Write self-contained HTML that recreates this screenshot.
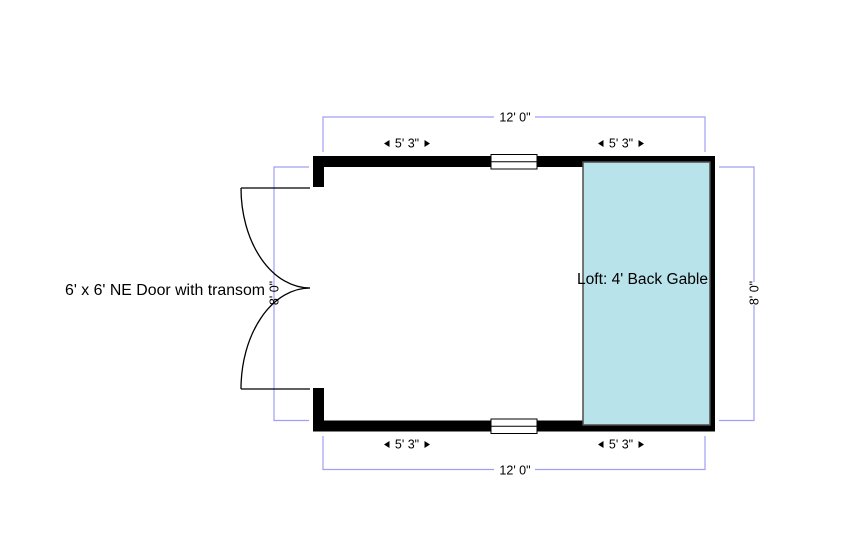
<!DOCTYPE html>
<html>
<head>
<meta charset="utf-8">
<style>
  html, body { margin: 0; padding: 0; background: #ffffff; }
  body { width: 842px; height: 560px; overflow: hidden; }
  svg { display: block; }
  text { font-family: "Liberation Sans", Arial, sans-serif; fill: #000; }
</style>
</head>
<body>
<svg width="842" height="560" viewBox="0 0 842 560" xmlns="http://www.w3.org/2000/svg">
  <rect x="0" y="0" width="842" height="560" fill="#ffffff"/>

  <!-- Dimension lines -->
  <g stroke="#9f9ff5" stroke-width="1.2" fill="none">
    <polyline points="323,152 323,117 494,117"/>
    <polyline points="535,117 705,117 705,152"/>
    <polyline points="323,436 323,469.5 494,469.5"/>
    <polyline points="535,469.5 705,469.5 705,436"/>
    <polyline points="309,167 274,167 274,420.5 309,420.5"/>
    <polyline points="719,167 754,167 754,282"/>
    <polyline points="754,305 754,420.5 719,420.5"/>
  </g>

  <!-- Walls -->
  <g fill="#000">
    <rect x="313" y="156" width="402" height="11"/>
    <rect x="313" y="420.5" width="402" height="11"/>
    <rect x="704" y="156" width="11" height="275.5"/>
    <rect x="313" y="156" width="11" height="31"/>
    <rect x="313" y="388" width="11" height="43"/>
  </g>

  <!-- Loft -->
  <rect x="583" y="162" width="127" height="263" fill="#b9e3eb" stroke="#4d4d4d" stroke-width="1.5"/>

  <!-- Windows -->
  <g fill="#fff" stroke="#000" stroke-width="1">
    <rect x="491" y="154.5" width="46" height="14.5"/>
    <line x1="491" y1="161.7" x2="537" y2="161.7"/>
    <rect x="491" y="419" width="46" height="14.5"/>
    <line x1="491" y1="426.2" x2="537" y2="426.2"/>
  </g>

  <!-- Door -->
  <g fill="none" stroke="#000" stroke-width="1.3">
    <line x1="241" y1="188" x2="310" y2="188"/>
    <line x1="241" y1="389" x2="310" y2="389"/>
    <path d="M241,188 A69,100 0 0 0 310,288"/>
    <path d="M241,389 A69,101 0 0 1 310,288"/>
  </g>

  <!-- Dimension labels -->
  <text x="515" y="121.5" font-size="12.5" text-anchor="middle">12' 0"</text>
  <text x="515" y="474.5" font-size="12.5" text-anchor="middle">12' 0"</text>

  <!-- 5'3" labels with arrows -->
  <g>
    <polygon points="384,143.5 389.5,140 389.5,147" fill="#000"/>
    <text x="407" y="147.5" font-size="12.5" text-anchor="middle">5' 3"</text>
    <polygon points="430,143.5 424.5,140 424.5,147" fill="#000"/>

    <polygon points="598,143.5 603.5,140 603.5,147" fill="#000"/>
    <text x="621" y="147.5" font-size="12.5" text-anchor="middle">5' 3"</text>
    <polygon points="644,143.5 638.5,140 638.5,147" fill="#000"/>

    <polygon points="384,444.5 389.5,441 389.5,448" fill="#000"/>
    <text x="407" y="448.5" font-size="12.5" text-anchor="middle">5' 3"</text>
    <polygon points="430,444.5 424.5,441 424.5,448" fill="#000"/>

    <polygon points="598,444.5 603.5,441 603.5,448" fill="#000"/>
    <text x="621" y="448.5" font-size="12.5" text-anchor="middle">5' 3"</text>
    <polygon points="644,444.5 638.5,441 638.5,448" fill="#000"/>
  </g>

  <!-- Rotated 8' labels -->
  <text transform="translate(278.5,293) rotate(-90)" font-size="12.5" text-anchor="middle">8' 0"</text>
  <text transform="translate(758.5,293) rotate(-90)" font-size="12.5" text-anchor="middle">8' 0"</text>

  <!-- Loft label -->
  <text x="577" y="284" font-size="15.5" textLength="131" lengthAdjust="spacingAndGlyphs">Loft: 4' Back Gable</text>

  <!-- Door label -->
  <text x="65" y="295" font-size="16" textLength="200" lengthAdjust="spacingAndGlyphs">6' x 6' NE Door with transom</text>
</svg>
</body>
</html>
